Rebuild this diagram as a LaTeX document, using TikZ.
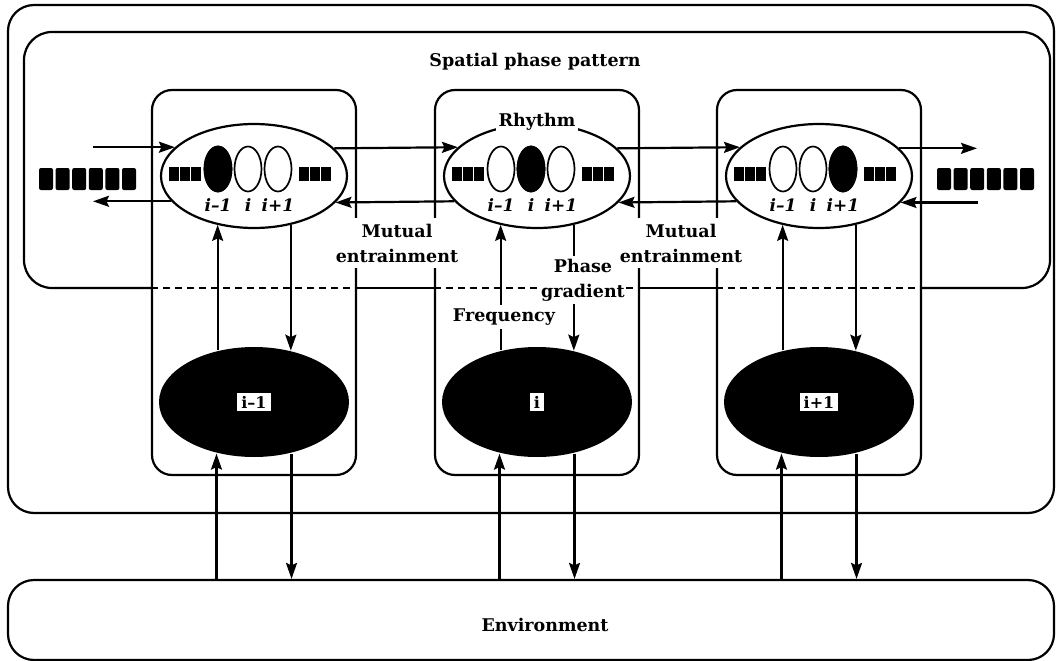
\documentclass[tikz,border=0pt]{standalone}
\usepackage{fontspec}
\setmainfont{DejaVu Serif}
\usetikzlibrary{calc, positioning}
\usetikzlibrary{arrows.meta}
\usetikzlibrary{shapes.geometric}

\begin{document}
\begin{tikzpicture}[x=1pt, y=-1pt, line width=2.2pt,
    frame/.style={draw, rounded corners=26pt},
    cellbox/.style={draw, rounded corners=20pt, minimum width=204pt, minimum height=385pt, inner sep=0pt},
    rhythm/.style={draw, ellipse, fill=white, minimum width=186pt, minimum height=104pt, inner sep=0pt},
    osc/.style={ellipse, fill=black, minimum width=190pt, minimum height=110pt, inner sep=0pt},
    phase/.style={draw, ellipse, fill=white, line width=1.7pt, minimum width=27pt, minimum height=45pt, inner sep=0pt},
    oscname/.style={fill=white, inner xsep=4pt, inner ysep=2.5pt, font=\fontsize{16}{18}\selectfont\bfseries},
    idx/.style={inner sep=0pt, font=\fontsize{17}{19}\selectfont\bfseries\itshape},
    lab/.style={fill=white, align=center, inner xsep=0pt, inner ysep=3pt, font=\fontsize{17.5}{25}\selectfont\bfseries},
    arr/.style={-{Stealth[length=16pt, width=11pt, inset=2.5pt]}},
]
\useasboundingbox (0,0) rectangle (1058,661);

\coordinate (pb) at (0,288);
\coordinate (inL) at (93,148);
\coordinate (outL) at (93,201);
\coordinate (outR) at (977,148);
\coordinate (inR) at (978,201);

% frames
\draw[frame] (8,5) rectangle (1054,513);
\node[frame, minimum width=1046pt, minimum height=80pt] (env) at (531,620) {};
\node[lab] (envlab) at (545,625) {Environment};

% cells
\foreach \n/\cx/\nm in {1/254/i--1, 2/537/i, 3/819/i+1} {
  \node[cellbox] (cell\n) at (\cx,282.5) {};
  \node[rhythm] (rhy\n) at (\cx,176) {};
  \node[osc] (osc\n) at (\cx,402) {};
  \node[oscname] at (osc\n) {\nm};
  \foreach \k/\dx/\t in {1/-36/i--1, 2/-6/i, 3/24/i+1} {
    \node[phase] (ph\n\k) at ({\cx+\dx},169) {};
    \node[idx] at ({\cx+\dx},205) {\t};
  }
  \node[phase, fill=black] at (ph\n\n) {};
  \foreach \bx in {-85,45}
    \foreach \j in {0,1,2}
      \fill ({\cx+\bx+11*\j},167) rectangle ++(10.4,14);
  \draw[arr] (osc\n.125.27) -- (osc\n.125.27 |- rhy\n.233.10);
  \draw[arr] (rhy\n.307.79) -- (rhy\n.307.79 |- osc\n.53.86);
  \draw[arr] (osc\n.234.73 |- env.north) -- (osc\n.234.73);
  \draw[arr] (osc\n.306.14) -- (osc\n.306.14 |- env.north);
}

% spatial phase pattern
\draw[rounded corners=28pt] (cell1.west |- pb) -- (24,288) -- (24,32) -- (1050,32) -- (1050,288) -- (cell3.east |- pb);
\draw (cell1.east |- pb) -- (cell2.west |- pb) (cell2.east |- pb) -- (cell3.west |- pb);
\draw[dash pattern=on 7pt off 5pt] (cell1.west |- pb) -- (cell1.east |- pb)
  (cell2.west |- pb) -- (cell2.east |- pb) (cell3.west |- pb) -- (cell3.east |- pb);
\node[font=\fontsize{17.5}{20}\selectfont\bfseries] (spp) at (535,62) {Spatial phase pattern};

% chains
\foreach \j in {0,...,5} {
  \fill[rounded corners=2pt] ({39+16.6*\j},168) rectangle ++(14,22);
  \fill[rounded corners=2pt] ({937+16.6*\j},168) rectangle ++(14,22);
}

% entrainment between neighbours
\draw[arr] (inL |- rhy1.160.34) -- (rhy1.160.34);
\draw[arr] (rhy1.197.04) -- (outL |- rhy1.197.04);
\draw[arr] (rhy1.19.66) -- (rhy2.160.34);
\draw[arr] (rhy2.197.04) -- (rhy1.342.96);
\draw[arr] (rhy2.19.66) -- (rhy3.160.34);
\draw[arr] (rhy3.197.04) -- (rhy2.342.96);
\draw[arr] (rhy3.19.66) -- (outR |- rhy3.19.66);
\draw[arr] (inR |- rhy3.342.96) -- (rhy3.342.96);

\node[lab] (phg) at (583,280) {Phase\\gradient};
\node[lab, inner ysep=6pt] (mut1) at (397,243) {Mutual\\entrainment};
\node[lab, inner ysep=6pt] (mut2) at (681,243) {Mutual\\entrainment};
\node[lab, inner ysep=4pt] (frq) at (504,317) {Frequency};
\node[lab, inner xsep=3pt] (rhl) at (537,122) {Rhythm};

\end{tikzpicture}
\end{document}
